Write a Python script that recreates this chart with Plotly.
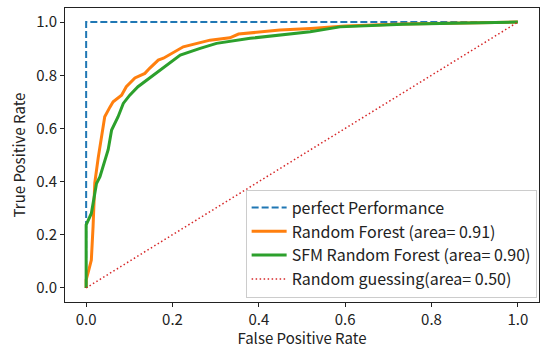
import plotly.graph_objects as go

# Perfect performance
perfect_fpr = [0.0, 0.0, 1.0]
perfect_tpr = [0.0, 1.0, 1.0]

# Random Forest (area = 0.91)
rf_fpr = [0.0, 0.0, 0.005, 0.012, 0.016, 0.020, 0.028, 0.035, 0.043, 0.055, 0.0625, 0.082,
          0.093, 0.113, 0.136, 0.147, 0.167, 0.179, 0.225, 0.287, 0.333, 0.353, 0.449,
          0.52, 0.60, 0.73, 0.85, 1.0]
rf_tpr = [0.0, 0.03, 0.06, 0.105, 0.23, 0.395, 0.49, 0.57, 0.644, 0.68, 0.70, 0.725,
          0.757, 0.79, 0.807, 0.826, 0.857, 0.864, 0.907, 0.932, 0.941, 0.955, 0.97,
          0.976, 0.985, 0.993, 0.997, 1.0]

# SFM Random Forest (area = 0.90)
sfm_fpr = [0.0, 0.0, 0.012, 0.024, 0.032, 0.043, 0.051, 0.059, 0.074, 0.086, 0.101, 0.12,
           0.14, 0.148, 0.167, 0.187, 0.218, 0.264, 0.302, 0.38, 0.449, 0.519, 0.588,
           0.734, 0.85, 1.0]
sfm_tpr = [0.0, 0.237, 0.28, 0.393, 0.418, 0.48, 0.52, 0.594, 0.644, 0.694, 0.725, 0.757,
           0.782, 0.79, 0.815, 0.838, 0.876, 0.901, 0.92, 0.939, 0.951, 0.964, 0.982,
           0.992, 0.996, 1.0]

# Random guessing
rand_fpr = [0.0, 1.0]
rand_tpr = [0.0, 1.0]

labels = ["perfect Performance", "Random Forest (area= 0.91)",
          "SFM Random Forest (area= 0.90)", "Random guessing(area= 0.50)"]
ticks = [0.0, 0.2, 0.4, 0.6, 0.8, 1.0]
tick_text = ["0.0", "0.2", "0.4", "0.6", "0.8", "1.0"]

fig = go.Figure()
fig.add_trace(go.Scatter(x=perfect_fpr, y=perfect_tpr, mode="lines", name=labels[0],
                         line=dict(color="#1f77b4", width=2, dash="7px,3px")))
fig.add_trace(go.Scatter(x=rf_fpr, y=rf_tpr, mode="lines", name=labels[1],
                         line=dict(color="#ff7f0e", width=3)))
fig.add_trace(go.Scatter(x=sfm_fpr, y=sfm_tpr, mode="lines", name=labels[2],
                         line=dict(color="#2ca02c", width=3)))
fig.add_trace(go.Scatter(x=rand_fpr, y=rand_tpr, mode="lines", name=labels[3],
                         line=dict(color="#d62728", width=1.5, dash="1.5px,2.5px")))

font = "Noto Sans CJK KR, Open Sans, sans-serif"
axis_common = dict(showgrid=False, zeroline=False, showline=True, linecolor="#222",
                   linewidth=1, mirror=True, ticks="outside", ticklen=4, tickcolor="#222",
                   tickvals=ticks, ticktext=tick_text, tickfont=dict(size=15, color="#222"))

fig.update_layout(
    width=544, height=348,
    margin=dict(l=65, r=5, t=8, b=46),
    paper_bgcolor="white", plot_bgcolor="white",
    font=dict(family=font, size=15, color="#222"),
    xaxis=dict(range=[-0.049, 1.049], title=dict(text="False Positive Rate", standoff=4,
               font=dict(size=15)), **axis_common),
    yaxis=dict(range=[-0.053, 1.053], title=dict(text="True Positive Rate", standoff=6,
               font=dict(size=15)), **axis_common),
    legend=dict(x=0.995, y=0.015, xanchor="right", yanchor="bottom",
                bgcolor="rgba(255,255,255,0.8)", bordercolor="#cccccc", borderwidth=1,
                font=dict(size=16, color="#222"), tracegroupgap=0, itemwidth=35),
    showlegend=True,
)

fig.write_html("out.html")
